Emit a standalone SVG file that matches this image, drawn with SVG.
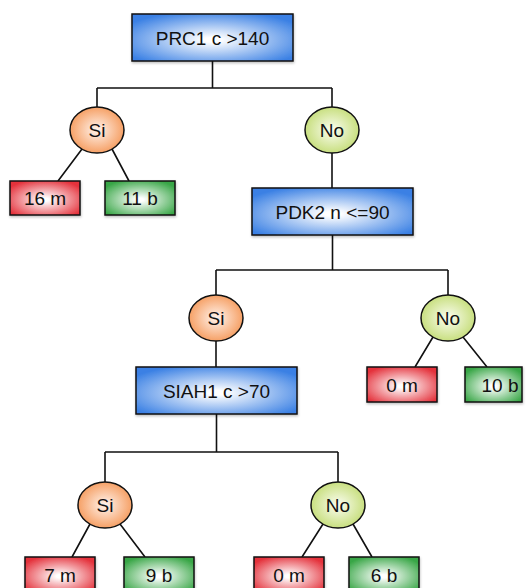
<svg xmlns="http://www.w3.org/2000/svg" width="528" height="588" viewBox="0 0 528 588">
<defs>
<radialGradient id="gBlue" cx="50%" cy="55%" r="62%">
<stop offset="0.08" stop-color="#ffffff"/>
<stop offset="1" stop-color="#3a80e4"/>
</radialGradient>
<radialGradient id="gRed" cx="50%" cy="55%" r="62%">
<stop offset="0.08" stop-color="#ffffff"/>
<stop offset="1" stop-color="#e4303a"/>
</radialGradient>
<radialGradient id="gGreen" cx="50%" cy="55%" r="62%">
<stop offset="0.08" stop-color="#ffffff"/>
<stop offset="1" stop-color="#38a646"/>
</radialGradient>
<radialGradient id="gOrange" cx="50%" cy="50%" r="55%">
<stop offset="0" stop-color="#fff4ee"/>
<stop offset="1" stop-color="#f59858"/>
</radialGradient>
<radialGradient id="gLime" cx="50%" cy="50%" r="55%">
<stop offset="0" stop-color="#fbfdf2"/>
<stop offset="1" stop-color="#c3dc74"/>
</radialGradient>
<filter id="sh" x="-10%" y="-10%" width="130%" height="140%">
<feDropShadow dx="0.5" dy="1.5" stdDeviation="0.8" flood-color="#000" flood-opacity="0.25"/>
</filter>
</defs>
<style>
.box{stroke:#111;stroke-width:1.5;filter:url(#sh)}
.blue{fill:url(#gBlue)}
.red{fill:url(#gRed)}
.green{fill:url(#gGreen)}
.si{fill:url(#gOrange);stroke:#111;stroke-width:1.5}
.no{fill:url(#gLime);stroke:#111;stroke-width:1.5}
text{font-family:"Liberation Sans",Arial,Helvetica,sans-serif;font-size:19px;fill:#111;text-anchor:middle}
.conn{fill:none;stroke:#111;stroke-width:1.6}
</style>
<g id="connectors" class="conn">
<path d="M212.5,61 V88 M97,88 H332 M97,88 V107 M332,88 V107"/>
<path d="M82,149 L58,181 M112,149 L129,181"/>
<path d="M332,153 V188"/>
<path d="M332.5,235 V270 M216,270 H448 M216,270 V295 M448,270 V295"/>
<path d="M216,341 V367"/>
<path d="M433,337 L415,367 M463,337 L487,367"/>
<path d="M216.5,414 V452 M105,452 H338 M105,452 V482 M338,452 V482"/>
<path d="M90,524 L72,557 M120,524 L145,557"/>
<path d="M323,524 L302,557 M353,524 L372,557"/>
</g>
<g id="n-prc1"><rect class="box blue" x="132" y="14" width="161" height="47"/><text x="212.5" y="44.5">PRC1 c &gt;140</text></g>
<g id="n-si1"><ellipse class="si" cx="97" cy="130" rx="27" ry="23"/><text x="97" y="137">Si</text></g>
<g id="n-no1"><ellipse class="no" cx="332" cy="130" rx="27" ry="23"/><text x="332" y="137">No</text></g>
<g id="n-16m"><rect class="box red" x="10" y="181" width="70" height="34"/><text x="45" y="205">16 m</text></g>
<g id="n-11b"><rect class="box green" x="105" y="181" width="70" height="34"/><text x="140" y="205">11 b</text></g>
<g id="n-pdk2"><rect class="box blue" x="252" y="188" width="161" height="47"/><text x="332.5" y="218.5">PDK2 n &lt;=90</text></g>
<g id="n-si2"><ellipse class="si" cx="216" cy="318" rx="27" ry="23"/><text x="216" y="325">Si</text></g>
<g id="n-no2"><ellipse class="no" cx="448" cy="318" rx="27" ry="23"/><text x="448" y="325">No</text></g>
<g id="n-0m-a"><rect class="box red" x="367" y="367" width="70" height="35"/><text x="402" y="391.5">0 m</text></g>
<g id="n-10b"><rect class="box green" x="465" y="367" width="57" height="35"/><text x="500" y="391.5">10 b</text></g>
<g id="n-siah1"><rect class="box blue" x="136" y="367" width="161" height="47"/><text x="216.5" y="397.5">SIAH1 c &gt;70</text></g>
<g id="n-si3"><ellipse class="si" cx="105" cy="505" rx="27" ry="23"/><text x="105" y="512">Si</text></g>
<g id="n-no3"><ellipse class="no" cx="338" cy="505" rx="27" ry="23"/><text x="338" y="512">No</text></g>
<g id="n-7m"><rect class="box red" x="25" y="557" width="70" height="35"/><text x="60" y="581.5">7 m</text></g>
<g id="n-9b"><rect class="box green" x="124" y="557" width="70" height="35"/><text x="159" y="581.5">9 b</text></g>
<g id="n-0m-b"><rect class="box red" x="254" y="557" width="70" height="35"/><text x="289" y="581.5">0 m</text></g>
<g id="n-6b"><rect class="box green" x="349" y="557" width="70" height="35"/><text x="384" y="581.5">6 b</text></g>
</svg>
